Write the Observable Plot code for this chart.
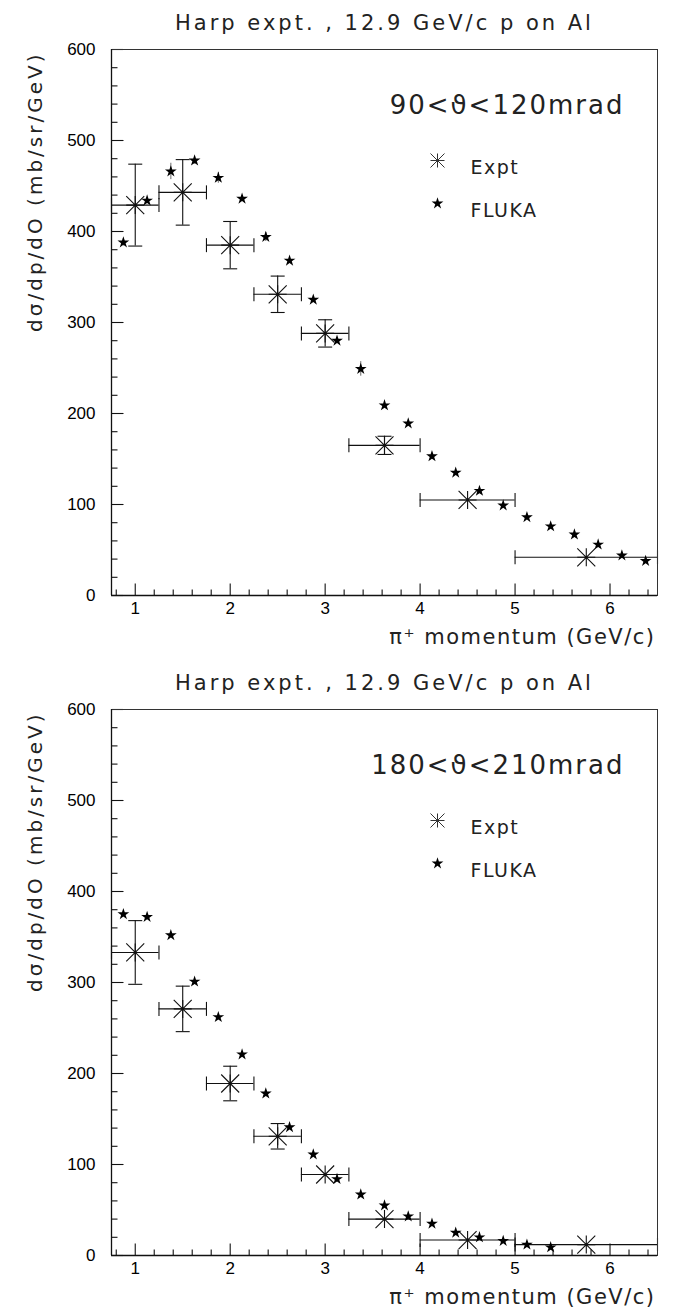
<!DOCTYPE html>
<html>
<head>
<meta charset="utf-8">
<script src="https://cdn.jsdelivr.net/npm/d3@7"></script>
<script src="https://cdn.jsdelivr.net/npm/@observablehq/plot@0.6"></script>
<style>
  body { margin: 0; background: #fff; }
  #chart { width: 676px; }
  #chart svg { display: block; }
</style>
</head>
<body>
<div id="chart"></div>
<script>
// ---------- text ----------
const titleText = "Harp expt. , 12.9 GeV/c p on Al";
const xLabel = "π⁺ momentum (GeV/c)";
const yLabel = "dσ/dp/dO (mb/sr/GeV)";
const legendLabels = ["Expt", "FLUKA"];
const panelLabels = ["90<ϑ<120mrad", "180<ϑ<210mrad"];

// ---------- tick labels ----------
const xMajorTicks = [1, 2, 3, 4, 5, 6];
const yMajorTicks = [0, 100, 200, 300, 400, 500, 600];

// ---------- experimental bins ----------
const exptX     = [1.0, 1.5, 2.0, 2.5, 3.0, 3.625, 4.5, 5.75];
const exptXLow  = [0.75, 1.25, 1.75, 2.25, 2.75, 3.25, 4.0, 5.0];
const exptXHigh = [1.25, 1.75, 2.25, 2.75, 3.25, 4.0, 5.0, 6.5];

// panel 1: 90 < theta < 120 mrad
const expt1Y   = [429, 443, 385, 331, 288, 165, 105, 42];
const expt1Err = [45, 36, 26, 20, 15, 10, 4, 3];
// panel 2: 180 < theta < 210 mrad
const expt2Y   = [333, 271, 189, 131, 89, 40, 17, 12];
const expt2Err = [35, 25, 19, 14, 6, 4, 2, 2];

// ---------- FLUKA ----------
const flukaX = [0.875, 1.125, 1.375, 1.625, 1.875, 2.125, 2.375, 2.625, 2.875, 3.125, 3.375, 3.625,
                3.875, 4.125, 4.375, 4.625, 4.875, 5.125, 5.375, 5.625, 5.875, 6.125, 6.375];
const fluka1Y   = [388, 434, 466, 478, 459, 436, 394, 368, 325, 280, 249, 209,
                   189, 153, 135, 115, 99, 86, 76, 67, 56, 44, 38];
const fluka1Err = [4, 3, 9, 4, 6, 3, 5, 2, 3, 3, 8, 2, 3, 2, 2, 2, 2, 2, 2, 2, 2, 2, 2];
const fluka2Y   = [375, 372, 352, 301, 262, 221, 178, 141, 111, 84, 67, 55,
                   43, 35, 25, 20, 16, 12, 9];
const fluka2Err = [3, 3, 3, 3, 3, 3, 3, 2, 2, 2, 2, 2, 2, 2, 2, 2, 1, 1, 1];

// ---------- styling ----------
const FONT = "'DejaVu Sans', sans-serif";
const TICKFONT = "'Liberation Sans', Arial, sans-serif";
const INK = "#111";

const xMinorTicks = d3.range(0.8, 6.5, 0.2).map(v => +v.toFixed(1)).filter(v => !xMajorTicks.includes(v));
const yMinorTicks = d3.range(20, 600, 20).filter(v => !yMajorTicks.includes(v));

function symbolFrom(fn) {
  return { draw(ctx, size) { fn(ctx, Math.sqrt(size / Math.PI)); } };
}
const tickRight = symbolFrom((c, r) => { c.moveTo(0, 0); c.lineTo(r, 0); });
const tickUp    = symbolFrom((c, r) => { c.moveTo(0, 0); c.lineTo(0, -r); });
const capH      = symbolFrom((c, r) => { c.moveTo(-r, 0); c.lineTo(r, 0); });
const capV      = symbolFrom((c, r) => { c.moveTo(0, -r); c.lineTo(0, r); });
const asterisk  = symbolFrom((c, r) => {
  c.moveTo(-r, -r); c.lineTo(r, r);
  c.moveTo(-r, r);  c.lineTo(r, -r);
  c.moveTo(0, -r);  c.lineTo(0, r);
  c.moveTo(-r, 0);  c.lineTo(r, 0);
});

const spacing = new Map([
  [titleText, "3px"], [xLabel, "1.5px"], [yLabel, "3px"],
  [panelLabels[0], "2px"], [panelLabels[1], "2px"],
  [legendLabels[0], "1.5px"], [legendLabels[1], "1.5px"]
]);

function panel({label, exptY, exptErr, flukaY, flukaErr, marginTop, marginBottom}) {
  const expt = exptX.map((x, i) => ({
    x, x1: exptXLow[i], x2: exptXHigh[i], err: exptErr[i],
    y: exptY[i], y1: exptY[i] - exptErr[i], y2: exptY[i] + exptErr[i]
  }));
  // like PAW, error bars shorter than the marker are not drawn
  const exptV = expt.filter(d => d.err >= 10);
  const fluka = flukaY.map((y, i) => ({x: flukaX[i], y, y1: y - flukaErr[i], y2: y + flukaErr[i]}));
  const frameLeft = 111;

  const svg = Plot.plot({
    width: 676, height: 658,
    marginTop, marginBottom, marginLeft: frameLeft, marginRight: 19,
    style: {fontFamily: TICKFONT, fontSize: "17px", background: "white", color: "black", overflow: "visible"},
    x: {domain: [0.75, 6.5], label: null},
    y: {domain: [0, 600], label: null},
    marks: [
      // tick labels (tick lines are drawn inward below)
      Plot.axisX({ticks: xMajorTicks, tickSize: 0, tickPadding: 6, fontSize: 17, label: null, tickFormat: d => String(d)}),
      Plot.axisY({ticks: yMajorTicks, tickSize: 0, tickPadding: 16, fontSize: 17, label: null, tickFormat: d => String(d)}),

      // inward ticks
      Plot.dot(yMajorTicks, {y: d => d, frameAnchor: "left", symbol: tickRight, r: 12, stroke: INK, fill: "none", strokeWidth: 1.1}),
      Plot.dot(yMinorTicks, {y: d => d, frameAnchor: "left", symbol: tickRight, r: 6, stroke: INK, fill: "none", strokeWidth: 1.1}),
      Plot.dot(xMajorTicks, {x: d => d, frameAnchor: "bottom", symbol: tickUp, r: 12, stroke: INK, fill: "none", strokeWidth: 1.1}),
      Plot.dot(xMinorTicks, {x: d => d, frameAnchor: "bottom", symbol: tickUp, r: 6, stroke: INK, fill: "none", strokeWidth: 1.1}),

      // experiment: horizontal bin bars with end caps
      Plot.ruleY(expt, {y: "y", x1: "x1", x2: "x2", stroke: INK, strokeWidth: 1.1}),
      Plot.dot(expt, {x: "x1", y: "y", symbol: capV, r: 7, stroke: INK, fill: "none", strokeWidth: 1.1}),
      Plot.dot(expt, {x: "x2", y: "y", symbol: capV, r: 7, stroke: INK, fill: "none", strokeWidth: 1.1}),
      // experiment: vertical error bars with caps
      Plot.ruleX(exptV, {x: "x", y1: "y1", y2: "y2", stroke: INK, strokeWidth: 1.1}),
      Plot.dot(exptV, {x: "x", y: "y1", symbol: capH, r: 7, stroke: INK, fill: "none", strokeWidth: 1.1}),
      Plot.dot(exptV, {x: "x", y: "y2", symbol: capH, r: 7, stroke: INK, fill: "none", strokeWidth: 1.1}),
      // experiment markers
      Plot.dot(expt, {x: "x", y: "y", symbol: asterisk, r: 9, stroke: INK, fill: "none", strokeWidth: 1.1}),

      // FLUKA
      Plot.ruleX(fluka, {x: "x", y1: "y1", y2: "y2", stroke: "#444", strokeWidth: 0.8}),
      Plot.dot(fluka, {x: "x", y: "y", symbol: "star", r: 3.7, fill: "black", stroke: "none"}),

      // frame
      Plot.frame({stroke: "#333", strokeWidth: 1}),
      Plot.ruleX([0.75], {stroke: INK, strokeWidth: 1.3}),
      Plot.ruleY([0], {stroke: INK, strokeWidth: 1.3}),

      // title
      Plot.text([titleText], {text: d => d, frameAnchor: "top", dy: -34, fontSize: 21, fontFamily: FONT, fill: "#222"}),
      // panel label
      Plot.text([label], {text: d => d, frameAnchor: "top-right", dx: -33, dy: 46, textAnchor: "end", fontSize: 26, fontFamily: FONT, fill: "#222"}),
      // legend
      Plot.dot([0], {frameAnchor: "top-left", dx: 437 - frameLeft, dy: 111, symbol: asterisk, r: 7, stroke: "#333", fill: "none", strokeWidth: 1}),
      Plot.text([legendLabels[0]], {text: d => d, frameAnchor: "top-left", dx: 470 - frameLeft, dy: 111, textAnchor: "start", fontSize: 19, fontFamily: FONT, fill: "#222"}),
      Plot.dot([0], {frameAnchor: "top-left", dx: 437 - frameLeft, dy: 154, symbol: "star", r: 3.7, fill: "black", stroke: "none"}),
      Plot.text([legendLabels[1]], {text: d => d, frameAnchor: "top-left", dx: 470 - frameLeft, dy: 154, textAnchor: "start", fontSize: 19, fontFamily: FONT, fill: "#222"}),
      // axis titles
      Plot.text([xLabel], {text: d => d, frameAnchor: "bottom-right", dx: -2, dy: 48, textAnchor: "end", fontSize: 21, fontFamily: FONT, fill: "#222"}),
      Plot.text([yLabel], {text: d => d, frameAnchor: "top-left", dx: 27 - frameLeft, dy: 2, rotate: -90, textAnchor: "end", fontSize: 20, fontFamily: FONT, fill: "#222"})
    ]
  });

  d3.select(svg).selectAll("text").each(function() {
    const ls = spacing.get(this.textContent);
    if (ls) this.style.letterSpacing = ls;
  });
  return svg;
}

const chart = document.getElementById("chart");
chart.append(panel({label: panelLabels[0], exptY: expt1Y, exptErr: expt1Err, flukaY: fluka1Y, flukaErr: fluka1Err, marginTop: 49, marginBottom: 63}));
chart.append(panel({label: panelLabels[1], exptY: expt2Y, exptErr: expt2Err, flukaY: fluka2Y, flukaErr: fluka2Err, marginTop: 51, marginBottom: 61}));
</script>
</body>
</html>
